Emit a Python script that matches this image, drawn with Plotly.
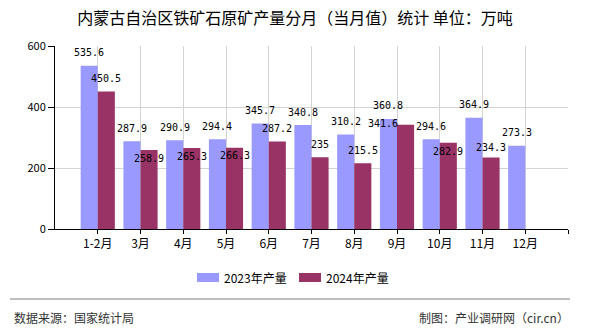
import plotly.graph_objects as go

categories = ["1-2月", "3月", "4月", "5月", "6月", "7月", "8月", "9月", "10月", "11月", "12月"]
values_2023 = [535.6, 287.9, 290.9, 294.4, 345.7, 340.8, 310.2, 360.8, 294.6, 364.9, 273.3]
values_2024 = [450.5, 258.9, 265.3, 266.3, 287.2, 235, 215.5, 341.6, 282.9, 234.3, None]
series_names = ["2023年产量", "2024年产量"]
colors = ["#9999FF", "#993366"]
y_ticks = [0, 200, 400, 600]

title = "内蒙古自治区铁矿石原矿产量分月（当月值）统计 单位：万吨"
source_left = "数据来源：国家统计局"
source_right = "制图：产业调研网（cir.cn）"

# label placement tweaks (pixels) as in the reference, to avoid label collisions
label_dy_2023 = [13] * 11
label_dx_2023 = [0] * 11
label_dy_2024 = [13, -8, -8, -8, 13, 13, 13, 1, -9, 10, 0]
label_dx_2024 = [0, 0, 0, 0, 0, 0, 0, -23, 0, 0, 0]

CJK = "Noto Sans CJK SC"
MONO = "DejaVu Sans Mono"

xs = list(range(len(categories)))
BW = 0.4

fig = go.Figure()
for vals, name, col, off in [(values_2023, series_names[0], colors[0], -BW),
                             (values_2024, series_names[1], colors[1], 0.0)]:
    fig.add_trace(go.Bar(
        x=xs, y=vals, name=name, marker=dict(color=col, line=dict(width=0)),
        width=BW, offset=off, showlegend=False, hoverinfo="x+y+name",
    ))

annotations = []
for vals, shift, dxs, dys in [(values_2023, -BW / 2, label_dx_2023, label_dy_2023),
                              (values_2024, BW / 2, label_dx_2024, label_dy_2024)]:
    for i, v in enumerate(vals):
        if v is None:
            continue
        annotations.append(dict(
            x=i + shift, y=v, xref="x", yref="y", text="%g" % v, showarrow=False,
            yanchor="middle", xanchor="center", yshift=dys[i], xshift=dxs[i],
            font=dict(family=MONO, size=10, color="#000000"),
        ))

# plot area geometry in pixels (for paper-coordinate conversion)
L, R, T, B = 55, 568, 46, 229
W, H = R - L, B - T


def px(xpx):
    return (xpx - L) / W


def py(ypx):
    return (B - ypx) / H


# manual legend
shapes = []
legend_items = [(197, series_names[0], colors[0]), (299, series_names[1], colors[1])]
for x0, name, col in legend_items:
    shapes.append(dict(type="rect", xref="paper", yref="paper",
                       x0=px(x0), x1=px(x0 + 22), y0=py(282), y1=py(273),
                       fillcolor=col, line=dict(width=0)))
    annotations.append(dict(x=px(x0 + 25), y=py(277), xref="paper", yref="paper",
                            text=name, showarrow=False, xanchor="left", yanchor="middle",
                            font=dict(family=CJK, size=12, color="#000000")))

# footer separator
shapes.append(dict(type="line", xref="paper", yref="paper",
                   x0=px(10), x1=px(570), y0=py(299), y1=py(299),
                   line=dict(color="#808080", width=1)))
annotations.append(dict(x=px(12), y=py(317), xref="paper", yref="paper", text=source_left,
                        showarrow=False, xanchor="left", yanchor="middle",
                        font=dict(family=CJK, size=12, color="#333333")))
annotations.append(dict(x=px(571), y=py(317), xref="paper", yref="paper", text=source_right,
                        showarrow=False, xanchor="right", yanchor="middle",
                        font=dict(family=CJK, size=12, color="#333333")))

fig.update_layout(
    width=590, height=330,
    margin=dict(l=L, r=590 - R, t=T, b=330 - B, pad=0),
    paper_bgcolor="white", plot_bgcolor="white",
    barmode="overlay",
    title=dict(text=title, x=295 / 590, xanchor="center", y=1 - 18 / 330, yanchor="middle",
               xref="container", yref="container",
               font=dict(family=CJK, size=16, color="#000000")),
    xaxis=dict(
        range=[-1, 11], tickmode="array", tickvals=list(range(len(categories) + 1)),
        ticktext=categories + [""], showgrid=True, gridcolor="#d3d3d3", gridwidth=1,
        showline=True, linecolor="#000000", linewidth=1,
        ticks="outside", ticklen=4, tickcolor="#000000",
        tickfont=dict(family=CJK, size=12, color="#000000"), zeroline=False, fixedrange=True,
    ),
    yaxis=dict(
        range=[0, 600], tickmode="array", tickvals=y_ticks,
        showgrid=True, gridcolor="#d3d3d3", gridwidth=1,
        showline=True, linecolor="#000000", linewidth=1,
        ticks="outside", ticklen=6, tickcolor="#000000",
        tickfont=dict(family=CJK, size=11, color="#000000"), zeroline=False, fixedrange=True,
    ),
    annotations=annotations, shapes=shapes,
    showlegend=False,
)

fig.write_html("out.html")
